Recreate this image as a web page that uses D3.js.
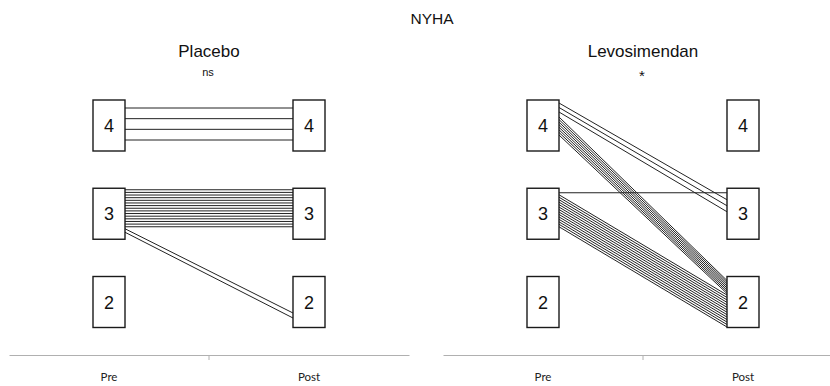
<!DOCTYPE html>
<html>
<head>
<meta charset="utf-8">
<script src="https://cdn.jsdelivr.net/npm/d3@7"></script>
<style>
  body { margin: 0; background: #fff; }
  svg { display: block; }
</style>
</head>
<body>
<svg id="chart" width="830" height="386"></svg>
<script>
// ---- data ----
const title = "NYHA";
const groups = ["Placebo", "Levosimendan"];
const significance = ["ns", "*"];
const timepoints = ["Pre", "Post"];
const nyhaClasses = [4, 3, 2];

// patient transitions: NYHA class before -> after, number of patients
const placeboFrom = [4, 3, 3];
const placeboTo   = [4, 3, 2];
const placeboN    = [4, 15, 2];

const levoFrom = [4, 4, 3, 3];
const levoTo   = [3, 2, 3, 2];
const levoN    = [3, 8, 1, 14];

// ---- layout ----
const boxW = 32, boxH = 51;
const panelX = [9, 443];
const axisW = 400;
const axisY = 355;

// vertical band (px out of the 51px box height) where each bundle leaves / enters a box
const bundleBands = [
  [ { s: [8, 40],     e: [8, 40] },
    { s: [1.5, 38.5], e: [1.5, 38.5] },
    { s: [40.5, 44],  e: [36.5, 41.5] } ],
  [ { s: [3, 12],     e: [11.5, 23.5] },
    { s: [17, 35],    e: [4, 17] },
    { s: [4.5, 4.5],  e: [4.5, 4.5] },
    { s: [6.5, 38.5], e: [18.5, 50.5] } ]
].map(p => p.map(b => ({ s: b.s.map(v => v / 51), e: b.e.map(v => v / 51) })));

const transitions = [
  placeboFrom.map((f, i) => ({ from: f, to: placeboTo[i], n: placeboN[i] })),
  levoFrom.map((f, i) => ({ from: f, to: levoTo[i], n: levoN[i] }))
];

const svg = d3.select("#chart");

const y = d3.scalePoint().domain(nyhaClasses).range([125.5, 302]);

svg.append("text")
  .attr("x", 432).attr("y", 24)
  .attr("text-anchor", "middle")
  .attr("font-family", "Liberation Sans, Arial, sans-serif")
  .attr("font-size", 15.5)
  .attr("fill", "#111")
  .text(title);

groups.forEach((g, gi) => {
  const x = d3.scaleBand().domain(timepoints).range([panelX[gi], panelX[gi] + axisW]);
  const cx = t => x(t) + x.bandwidth() / 2;
  const panel = svg.append("g");

  // group title and significance mark
  panel.append("text")
    .attr("x", x.range()[0] + axisW / 2).attr("y", 57)
    .attr("text-anchor", "middle")
    .attr("font-family", "Liberation Sans, Arial, sans-serif")
    .attr("font-size", 17)
    .attr("fill", "#111")
    .text(g);
  panel.append("text")
    .attr("x", x.range()[0] + axisW / 2 - 1).attr("y", significance[gi] === "*" ? 81 : 76)
    .attr("text-anchor", "middle")
    .attr("font-family", "Liberation Sans, Arial, sans-serif")
    .attr("font-size", significance[gi] === "*" ? 15 : 11)
    .attr("fill", "#111")
    .text(significance[gi]);

  // one line per patient
  const lines = [];
  transitions[gi].forEach((t, ti) => {
    const band = bundleBands[gi][ti];
    for (let k = 0; k < t.n; k++) {
      const f = t.n > 1 ? k / (t.n - 1) : 0;
      const ys = y(t.from) - boxH / 2 + boxH * (band.s[0] + (band.s[1] - band.s[0]) * f);
      const ye = y(t.to) - boxH / 2 + boxH * (band.e[0] + (band.e[1] - band.e[0]) * f);
      lines.push({ x1: cx("Pre") + boxW / 2, y1: ys, x2: cx("Post") - boxW / 2, y2: ye });
    }
  });
  panel.append("g").selectAll("line").data(lines).join("line")
    .attr("x1", d => d.x1).attr("y1", d => d.y1)
    .attr("x2", d => d.x2).attr("y2", d => d.y2)
    .attr("stroke", "#222")
    .attr("stroke-width", 1);

  // NYHA class boxes at both time points
  const boxes = [];
  timepoints.forEach(tp => nyhaClasses.forEach(c => boxes.push({ tp, c })));
  const bg = panel.append("g").selectAll("g").data(boxes).join("g")
    .attr("transform", d => `translate(${cx(d.tp)},${y(d.c)})`);
  bg.append("rect")
    .attr("x", -boxW / 2).attr("y", -boxH / 2)
    .attr("width", boxW).attr("height", boxH)
    .attr("fill", "#fff")
    .attr("stroke", "#1a1a1a")
    .attr("stroke-width", 1.4);
  bg.append("text")
    .attr("y", 6.5)
    .attr("text-anchor", "middle")
    .attr("font-family", "Liberation Sans, Arial, sans-serif")
    .attr("font-size", 18)
    .attr("fill", "#111")
    .text(d => d.c);

  // category axis below each panel
  const axis = d3.axisBottom(x).tickSize(0).tickPadding(18);
  const ag = panel.append("g").attr("transform", `translate(0,${axisY})`).call(axis);
  ag.select(".domain").attr("stroke", "#b0b0b0").attr("stroke-width", 1);
  ag.selectAll(".tick text")
    .attr("font-family", "Lato, Open Sans, sans-serif")
    .attr("font-size", 11.5)
    .attr("fill", "#222");
  ag.append("line")
    .attr("x1", x.range()[0] + axisW / 2).attr("x2", x.range()[0] + axisW / 2)
    .attr("y1", 0).attr("y2", 5)
    .attr("stroke", "#b0b0b0");
});
</script>
</body>
</html>
